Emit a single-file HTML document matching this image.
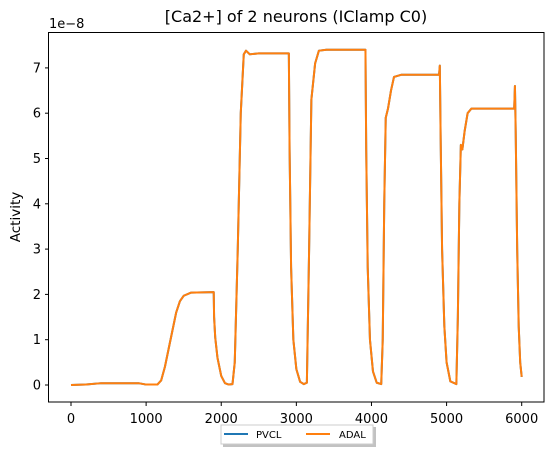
<!DOCTYPE html>
<html><head><meta charset="utf-8"><style>
body{margin:0;background:#fff;font-family:"DejaVu Sans","Liberation Sans",sans-serif}
</style></head><body>
<svg id="chart" width="554" height="455" font-family="DejaVu Sans, Liberation Sans, sans-serif">
<rect width="554" height="455" fill="#fff"/>
<text x="296" y="22" font-size="16" text-anchor="middle">[Ca2+] of 2 neurons (IClamp C0)</text>
<text x="49" y="28" font-size="13">1e−8</text>
<text transform="translate(20,217) rotate(-90)" font-size="13.5" text-anchor="middle">Activity</text>
<g id="plot"></g>
<rect x="48.5" y="32.5" width="495.5" height="369.5" fill="none" stroke="#000" stroke-width="1"/>
<g>
<rect x="223" y="427" width="153" height="20" fill="#999" opacity="0.6"/>
<rect x="221" y="425" width="152" height="19" fill="#fff" stroke="#ccc"/>
<line x1="224" y1="434" x2="248" y2="434" stroke="#1f77b4" stroke-width="2"/>
<text x="256" y="438" font-size="10">PVCL</text>
<line x1="306" y1="434" x2="330" y2="434" stroke="#ff7f0e" stroke-width="2"/>
<text x="339" y="438" font-size="10">ADAL</text>
</g>
</svg>
<script>
const xTicks=[0,1000,2000,3000,4000,5000,6000];
const yTicks=[0,1,2,3,4,5,6,7];
const times=[0,200,400,900,1000,1150,1200,1250,1300,1350,1400,1450,1500,1600,1900,1905,1920,1950,2000,2050,2100,2150,2180,2220,2260,2300,2330,2380,2500,2900,2910,2930,2960,3000,3050,3100,3140,3170,3200,3250,3300,3400,3920,3930,3950,3980,4020,4070,4130,4150,4170,4190,4220,4260,4300,4400,4900,4910,4920,4940,4970,5000,5050,5130,5150,5170,5190,5210,5240,5280,5330,5900,5910,5920,5940,5960,5980,6000];
const adal=[0,0.01,0.04,0.04,0.01,0.01,0.1,0.4,0.8,1.2,1.6,1.85,1.97,2.04,2.05,1.5,1.05,0.6,0.2,0.04,0.01,0.02,0.5,3,6,7.3,7.38,7.3,7.32,7.32,5.2,2.6,1.0,0.35,0.07,0.02,0.05,3,6.3,7.1,7.38,7.4,7.4,5.2,2.6,1.0,0.3,0.05,0.02,1,4,5.9,6.1,6.5,6.8,6.85,6.85,7.05,5.6,3.0,1.3,0.5,0.08,0.02,1.5,4,5.3,5.2,5.6,6,6.1,6.1,6.6,5.6,3.0,1.3,0.5,0.18];
const pvcl=adal.slice();
const X=v=>71+v*(521.7-71)/6000;
const Y=v=>385-v*45.3;
const NS="http://www.w3.org/2000/svg";
const g=document.getElementById('plot');
function mk(t,a){const e=document.createElementNS(NS,t);for(const k in a)e.setAttribute(k,a[k]);g.appendChild(e);return e;}
xTicks.forEach(v=>{
 const l=mk('line',{x1:X(v),x2:X(v),y1:402.5,y2:406,stroke:'#000'});
 
 
 const t=mk('text',{x:X(v),y:423,'font-size':13,'text-anchor':'middle'});t.textContent=v;
 
 
});
yTicks.forEach(v=>{
 const l=mk('line',{x1:45,x2:48.5,y1:Y(v),y2:Y(v),stroke:'#000'});
 
 
 const t=mk('text',{x:41,y:Y(v)+4.5,'font-size':13,'text-anchor':'end'});t.textContent=v;
 
 
});
function line(vals,color,name){
 const d=vals.map((v,i)=>(i?'L':'M')+X(times[i]).toFixed(2)+','+Y(v).toFixed(2)).join('');
 const p=mk('path',{d:d,fill:'none',stroke:color,'stroke-width':2,'stroke-linejoin':'round'});
 
 
}
line(pvcl,'#1f77b4','pvcl-line');
line(adal,'#ff7f0e','adal-line');
</script>
</body></html>
